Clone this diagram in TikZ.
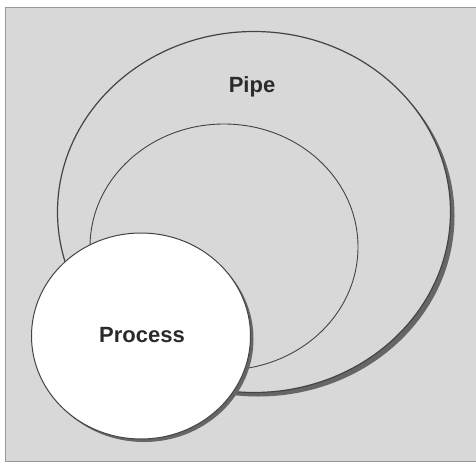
\documentclass[tikz,border=0pt]{standalone}
\usepackage{fontspec}
\setmainfont{Liberation Sans}
\usetikzlibrary{shapes.geometric,shadows}
\definecolor{panel}{HTML}{D8D8D8}
\definecolor{edge}{HTML}{444444}
\definecolor{shade}{HTML}{666666}
\definecolor{ink}{HTML}{2A2A2A}
\tikzset{
  ring/.style={ellipse, draw=edge, line width=1.2pt, fill=panel, inner sep=0pt},
  innerring/.style={ellipse, draw=edge, line width=0.9pt, inner sep=0pt},
  procbox/.style={ellipse, draw=edge, line width=1pt, fill=white, inner sep=0pt},
  shadowed/.style={drop shadow={shadow xshift=#1, shadow yshift=-#1, fill=shade, opacity=1}},
  label/.style={font=\bfseries\fontsize{22}{24}\selectfont, text=ink}
}
\begin{document}
\begin{tikzpicture}[x=1pt,y=-1pt]
  \useasboundingbox (0,0) rectangle (476,466);
  % textured panel behind everything
  \fill[panel] (5,7) rectangle (476,461);
  \draw[gray!80, line width=1pt] (476,7) -- (5,7) -- (5,461) -- (476,461);
  % the pipe, with its inner channel
  \node[ring, shadowed=4pt, minimum width=393pt, minimum height=361pt] (pipe) at (254,212) {};
  \node[innerring, minimum width=268pt, minimum height=246pt] (channel) at (224,247) {};
  \node[label] (pipetext) at (252,87) {Pipe};
  % the process sitting on the pipe
  \node[procbox, shadowed=3pt, minimum width=219pt, minimum height=206pt] (process) at (141,336) {};
  \node[label] (proctext) at (142,335) {Process};
\end{tikzpicture}
\end{document}
